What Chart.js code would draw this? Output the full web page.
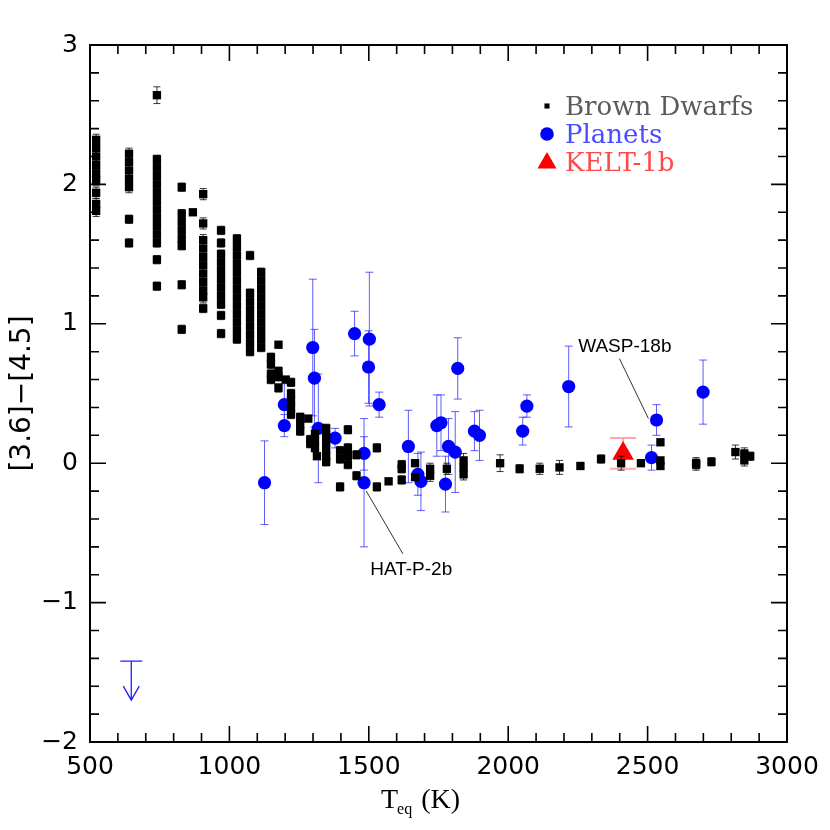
<!DOCTYPE html>
<html>
<head>
<meta charset="utf-8">
<title>[3.6]-[4.5] vs Teq</title>
<script src="https://cdn.jsdelivr.net/npm/chart.js@4.4.1/dist/chart.umd.min.js"></script>
<style>
  html, body { margin: 0; padding: 0; background: #fff; }
  #chart { display: block; }
</style>
</head>
<body>
<canvas id="chart" width="830" height="830"></canvas>
<script>
// ── Data ──────────────────────────────────────────────
// Brown dwarfs: equilibrium temperature (K), [3.6]-[4.5] colour, error
const bdTemp = [
  522, 522, 522, 522, 522, 522, 522, 522, 522,
  640, 640, 640, 640, 640, 640, 640,
  740, 740, 740, 740, 740, 740, 740, 740, 740, 740, 740, 740, 740, 740,
  829, 829, 829, 829, 829, 829, 829, 829,
  869,
  906, 906, 906, 906, 906, 906, 906, 906, 906, 906, 906,
  970, 970, 970, 970, 970, 970, 970, 970, 970, 970, 970,
  1027, 1027, 1027, 1027, 1027, 1027, 1027, 1027, 1027, 1027, 1027, 1027, 1027,
  1074, 1074, 1074, 1074, 1074, 1074, 1074, 1074, 1074,
  1114, 1114, 1114, 1114, 1114, 1114, 1114, 1114, 1114, 1114,
  1149, 1149, 1149, 1149,
  1176, 1176, 1176, 1176,
  1202,
  1221, 1221, 1221, 1221, 1221,
  1254, 1254, 1254,
  1283, 1290, 1290, 1307, 1307, 1307, 1314,
  1347, 1347, 1347, 1347, 1347, 1347,
  1397, 1397, 1397,
  1425, 1425, 1425, 1425,
  1456, 1456, 1529, 1529, 1571,
  1618, 1618, 1618, 1666, 1666, 1720, 1720, 1780,
  1840, 1840, 1840,
  1971, 2041, 2113, 2184, 2259, 2333, 2405, 2476,
  2546, 2546, 2546, 2674, 2674, 2729, 2815, 2847, 2847, 2868
];
const bdColor = [
  2.32, 2.26, 2.20, 2.14, 2.08, 2.03, 1.94, 1.86, 1.81,
  2.22, 2.16, 2.10, 2.04, 1.98, 1.75, 1.58,
  2.64, 2.18, 2.12, 2.06, 2.00, 1.94, 1.88, 1.82, 1.76, 1.70, 1.64, 1.58, 1.46, 1.27,
  1.98, 1.79, 1.73, 1.67, 1.61, 1.56, 1.28, 0.96,
  1.80,
  1.93, 1.72, 1.60, 1.54, 1.48, 1.42, 1.36, 1.30, 1.24, 1.19, 1.11,
  1.67, 1.58, 1.50, 1.44, 1.38, 1.32, 1.26, 1.20, 1.14, 1.06, 0.93,
  1.61, 1.55, 1.49, 1.43, 1.37, 1.31, 1.25, 1.19, 1.13, 1.07, 1.01, 0.95, 0.89,
  1.49, 1.22, 1.16, 1.10, 1.04, 0.98, 0.92, 0.86, 0.80,
  1.37, 1.31, 1.25, 1.19, 1.13, 1.07, 1.01, 0.95, 0.89, 0.83,
  0.76, 0.71, 0.64, 0.60,
  0.85, 0.66, 0.62, 0.54,
  0.60,
  0.58, 0.50, 0.45, 0.40, 0.35,
  0.33, 0.28, 0.23,
  0.32, 0.17, 0.14, 0.21, 0.16, 0.11, 0.05,
  0.25, 0.20, 0.15, 0.10, 0.05, 0.01,
  0.09, 0.03, -0.17,
  0.24, 0.11, 0.05, -0.01,
  0.06, -0.09, 0.11, -0.17, -0.13,
  -0.01, -0.04, -0.12, 0.00, -0.10, -0.04, -0.09, -0.04,
  0.02, -0.03, -0.08,
  0.00, -0.04, -0.04, -0.03, -0.02, 0.03, 0.00, 0.00,
  0.15, 0.02, -0.02, 0.00, -0.01, 0.01, 0.08, 0.07, 0.02, 0.05
];
const bdErr = [
  0.04, 0.04, 0.04, 0.04, 0.04, 0.04, 0.04, 0.04, 0.04,
  0.04, 0.04, 0.04, 0.04, 0.04, 0.03, 0.03,
  0.06, 0.03, 0.03, 0.03, 0.03, 0.03, 0.03, 0.03, 0.03, 0.03, 0.03, 0.03, 0.03, 0.03,
  0.03, 0.03, 0.03, 0.03, 0.03, 0.03, 0.03, 0.03,
  0.02,
  0.04, 0.04, 0.04, 0.04, 0.04, 0.04, 0.04, 0.04, 0.04, 0.04, 0.03,
  0.03, 0.03, 0.03, 0.03, 0.03, 0.03, 0.03, 0.03, 0.03, 0.03, 0.03,
  0.03, 0.03, 0.03, 0.03, 0.03, 0.03, 0.03, 0.03, 0.03, 0.03, 0.03, 0.03, 0.03,
  0.03, 0.03, 0.03, 0.03, 0.03, 0.03, 0.03, 0.03, 0.03,
  0.03, 0.03, 0.03, 0.03, 0.03, 0.03, 0.03, 0.03, 0.03, 0.03,
  0.03, 0.03, 0.03, 0.03,
  0.02, 0.03, 0.03, 0.03,
  0.02,
  0.03, 0.03, 0.03, 0.03, 0.03,
  0.03, 0.03, 0.03,
  0.02, 0.03, 0.03, 0.03, 0.03, 0.03, 0.02,
  0.03, 0.03, 0.03, 0.03, 0.03, 0.03,
  0.03, 0.03, 0.03,
  0.03, 0.03, 0.03, 0.03,
  0.03, 0.03, 0.03, 0.03, 0.02,
  0.03, 0.03, 0.03, 0.02, 0.02, 0.04, 0.04, 0.04,
  0.05, 0.04, 0.04,
  0.06, 0.03, 0.04, 0.05, 0.00, 0.03, 0.05, 0.00,
  0.00, 0.02, 0.02, 0.04, 0.04, 0.03, 0.05, 0.04, 0.04, 0.03
];

// Planets
const plTemp = [
  1126, 1197, 1197, 1299, 1305, 1319, 1379, 1449, 1502, 1499, 1537,
  1483, 1483, 1642, 1676, 1687, 1744, 1759, 1786, 1775, 1810, 1819,
  1879, 1897, 2052, 2067, 2217, 2514, 2532, 2699
];
const plColor = [
  -0.14, 0.42, 0.27, 0.83, 0.61, 0.25, 0.18, 0.93, 0.89, 0.69, 0.42,
  0.07, -0.14, 0.12, -0.08, -0.13, 0.27, 0.29, 0.12, -0.15, 0.08, 0.68,
  0.23, 0.20, 0.23, 0.41, 0.55, 0.04, 0.31, 0.51
];
const plErr = [
  0.30, 0.15, 0.08, 0.49, 0.35, 0.39, 0.07, 0.16, 0.48, 0.26, 0.09,
  0.12, 0.46, 0.26, 0.15, 0.21, 0.22, 0.20, 0.20, 0.20, 0.29, 0.22,
  0.14, 0.18, 0.10, 0.08, 0.29, 0.09, 0.11, 0.23
];

// Planet upper limit (arrow)
const ulTemp = [648];
const ulColor = [-1.42];
const ulArrowTo = [-1.70];

// KELT-1b
const keltTemp = [2412];
const keltColor = [0.07];
const keltErr = [0.11];

// Labelled planets: name, text anchor (T, colour), leader line from -> to
const noteNames = ['WASP-18b', 'HAT-P-2b'];
const noteText = [[2251, 0.80], [1505, -0.80]];
const noteLineFrom = [[2399, 0.75], [1491, -0.20]];
const noteLineTo = [[2503, 0.32], [1622, -0.65]];

// Axis ranges and ticks
const xRange = [500, 3000];
const yRange = [-2, 3];
const xMajor = 500, xMinor = 100;
const yMajor = 1, yMinor = 0.2;

const legendNames = ['Brown Dwarfs', 'Planets', 'KELT-1b'];

// ── Plugins ──────────────────────────────────────────────
function drawBars(chart, xv, yv, ev, color, cap, width) {
  const ctx = chart.ctx;
  const xs = chart.scales.x, ys = chart.scales.y;
  ctx.save();
  ctx.strokeStyle = color;
  ctx.lineWidth = width;
  ctx.beginPath();
  for (let i = 0; i < xv.length; i++) {
    if (!ev[i]) continue;
    const px = xs.getPixelForValue(xv[i]);
    const top = ys.getPixelForValue(yv[i] + ev[i]);
    const bot = ys.getPixelForValue(yv[i] - ev[i]);
    ctx.moveTo(px, top); ctx.lineTo(px, bot);
    ctx.moveTo(px - cap / 2, top); ctx.lineTo(px + cap / 2, top);
    ctx.moveTo(px - cap / 2, bot); ctx.lineTo(px + cap / 2, bot);
  }
  ctx.stroke();
  ctx.restore();
}

const errorBars = {
  id: 'errorBars',
  beforeDatasetDraw(chart, args) {
    if (args.index === 0) drawBars(chart, bdTemp, bdColor, bdErr, 'rgba(20,20,20,0.85)', 7, 1);
    if (args.index === 1) {
      drawBars(chart, plTemp, plColor, plErr, 'rgba(40,40,255,0.75)', 8, 1);
      // upper limit arrow
      const ctx = chart.ctx, xs = chart.scales.x, ys = chart.scales.y;
      ctx.save();
      ctx.strokeStyle = '#2020ff';
      ctx.lineWidth = 1.3;
      ctx.beginPath();
      ulTemp.forEach((t, i) => {
        const px = xs.getPixelForValue(t);
        const y0 = ys.getPixelForValue(ulColor[i]);
        const y1 = ys.getPixelForValue(ulArrowTo[i]);
        ctx.moveTo(px - 11, y0); ctx.lineTo(px + 11, y0);
        ctx.moveTo(px, y0); ctx.lineTo(px, y1);
        ctx.moveTo(px - 8, y1 - 14); ctx.lineTo(px, y1); ctx.lineTo(px + 8, y1 - 14);
      });
      ctx.stroke();
      ctx.restore();
    }
    if (args.index === 2) drawBars(chart, keltTemp, keltColor, keltErr, 'rgba(255,60,60,0.45)', 26, 2);
  }
};

const frameAndNotes = {
  id: 'frameAndNotes',
  afterDatasetsDraw(chart) {
    const ctx = chart.ctx, xs = chart.scales.x, ys = chart.scales.y;
    const a = chart.chartArea;

    // annotations
    ctx.save();
    ctx.strokeStyle = '#333';
    ctx.lineWidth = 1;
    ctx.fillStyle = '#000';
    ctx.font = '19px "Liberation Sans", Arial, sans-serif';
    ctx.textBaseline = 'alphabetic';
    noteNames.forEach((n, i) => {
      ctx.beginPath();
      ctx.moveTo(xs.getPixelForValue(noteLineFrom[i][0]), ys.getPixelForValue(noteLineFrom[i][1]));
      ctx.lineTo(xs.getPixelForValue(noteLineTo[i][0]), ys.getPixelForValue(noteLineTo[i][1]));
      ctx.stroke();
      ctx.fillText(n, xs.getPixelForValue(noteText[i][0]), ys.getPixelForValue(noteText[i][1]));
    });
    ctx.restore();

    // frame with inward ticks on all four sides
    ctx.save();
    ctx.strokeStyle = '#000';
    ctx.lineWidth = 2;
    ctx.strokeRect(a.left, a.top, a.right - a.left, a.bottom - a.top);
    ctx.lineWidth = 1.6;
    ctx.beginPath();
    for (let v = xRange[0]; v <= xRange[1] + 1e-6; v += xMinor) {
      const px = xs.getPixelForValue(v);
      const len = Math.abs(v % xMajor) < 1e-6 ? 16 : 9;
      ctx.moveTo(px, a.bottom); ctx.lineTo(px, a.bottom - len);
      ctx.moveTo(px, a.top); ctx.lineTo(px, a.top + len);
    }
    for (let k = 0; k <= Math.round((yRange[1] - yRange[0]) / yMinor); k++) {
      const v = yRange[0] + k * yMinor;
      const py = ys.getPixelForValue(v);
      const len = k % Math.round(yMajor / yMinor) === 0 ? 16 : 9;
      ctx.moveTo(a.left, py); ctx.lineTo(a.left + len, py);
      ctx.moveTo(a.right, py); ctx.lineTo(a.right - len, py);
    }
    ctx.stroke();
    ctx.restore();
  },
  afterDraw(chart) {
    const ctx = chart.ctx;
    const a = chart.chartArea;

    // legend
    const colors = ['#5a5a5a', '#4a4aff', '#ff4a4a'];
    const markers = [
      { pointStyle: 'rect', radius: 3.6, color: '#000' },
      { pointStyle: 'circle', radius: 6.8, color: '#0000ff' },
      { pointStyle: 'triangle', radius: 11, color: '#ff0000' }
    ];
    ctx.save();
    ctx.font = '26px "DejaVu Serif", serif';
    ctx.textBaseline = 'alphabetic';
    legendNames.forEach((n, i) => {
      const base = a.top + 70 + i * 28;
      const m = markers[i];
      ctx.fillStyle = m.color;
      Chart.helpers.drawPoint(ctx, { pointStyle: m.pointStyle, radius: m.radius, borderWidth: 0, rotation: 0 },
        a.right - 240, base - 9 + (i === 2 ? 1 : 0));
      ctx.fillStyle = colors[i];
      ctx.fillText(n, a.right - 222, base);
    });
    ctx.restore();

    // axis titles
    ctx.save();
    ctx.fillStyle = '#000';
    ctx.textBaseline = 'alphabetic';
    ctx.font = '28px "Liberation Serif", serif';
    const xt = 381, yb = 808;
    ctx.fillText('T', xt, yb);
    const wT = ctx.measureText('T').width;
    ctx.font = '16px "Liberation Serif", serif';
    ctx.fillText('eq', xt + wT - 1, yb + 6);
    const wEq = ctx.measureText('eq').width;
    ctx.font = '28px "Liberation Serif", serif';
    ctx.fillText('(K)', xt + wT + wEq + 8, yb);

    ctx.translate(23, (a.top + a.bottom) / 2);
    ctx.rotate(-Math.PI / 2);
    ctx.textAlign = 'center';
    ctx.textBaseline = 'middle';
    ctx.font = '28px "DejaVu Sans", sans-serif';
    ctx.fillText('[3.6]−[4.5]', 0, 0);
    ctx.restore();
  }
};

// ── Chart ──────────────────────────────────────────────
const toPoints = (xs, ys) => xs.map((x, i) => ({ x, y: ys[i] }));
const tickFont = { family: '"DejaVu Sans", sans-serif', size: 25 };

new Chart(document.getElementById('chart'), {
  type: 'scatter',
  data: {
    datasets: [
      { label: legendNames[0], data: toPoints(bdTemp, bdColor), pointStyle: 'rect', pointRadius: 5.9,
        backgroundColor: '#000', borderWidth: 0 },
      { label: legendNames[1], data: toPoints(plTemp, plColor), pointStyle: 'circle', pointRadius: 6.6,
        backgroundColor: '#0000ff', borderWidth: 0 },
      { label: legendNames[2], data: toPoints(keltTemp, keltColor), pointStyle: 'triangle', pointRadius: 12.5,
        backgroundColor: '#ff0000', borderWidth: 0 }
    ]
  },
  options: {
    responsive: false,
    animation: false,
    devicePixelRatio: 1,
    layout: { padding: { top: 45, right: 43, left: 0, bottom: 0 } },
    plugins: { legend: { display: false }, tooltip: { enabled: false } },
    scales: {
      x: {
        type: 'linear', min: xRange[0], max: xRange[1],
        grid: { display: false, drawTicks: false },
        border: { display: false },
        ticks: { stepSize: xMajor, color: '#000', font: tickFont, padding: 10, maxRotation: 0,
          callback: v => String(v) },
        afterFit: s => { s.height = 88; }
      },
      y: {
        type: 'linear', min: yRange[0], max: yRange[1],
        grid: { display: false, drawTicks: false },
        border: { display: false },
        ticks: { stepSize: yMajor, color: '#000', font: tickFont, padding: 12,
          callback: v => v < 0 ? '−' + Math.abs(v) : String(v) },
        afterFit: s => { s.width = 90; }
      }
    }
  },
  plugins: [errorBars, frameAndNotes]
});
</script>
</body>
</html>
